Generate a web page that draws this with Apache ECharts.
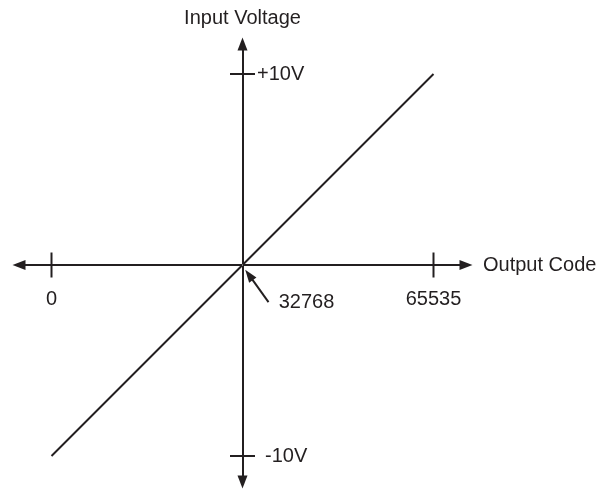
<!DOCTYPE html>
<html><head><meta charset="utf-8">
<script src="https://cdn.jsdelivr.net/npm/echarts@6/dist/echarts.min.js"></script>
<style>html,body{margin:0;padding:0;background:#fff}#c{width:605px;height:489px}</style>
</head><body><div id="c"></div>
<script>
// Data
var codes = [0, 65535];
var voltages = [-10, 10];
var xTickValues = [0, 65535];
var yTickValues = [10, -10];
var yTickLabels = ['+10V', '-10V'];
var midCode = 32768;
var xName = 'Output Code';
var yName = 'Input Voltage';

var INK = '#231f20';
var FONT = 'Liberation Sans, Arial, sans-serif';
var chart = echarts.init(document.getElementById('c'), null, {renderer: 'canvas'});

var xMin = -5576, xMax = 71111;
var lineData = codes.map(function (c, i) { return [c, voltages[i]]; });
var txt = {color: INK, fontSize: 20, fontFamily: FONT, opacity: 1};

chart.setOption({
  animation: false,
  grid: {left: 19, right: 139, top: 44, bottom: 7, containLabel: false, outerBoundsMode: 'none'},
  xAxis: [{
    type: 'value', min: xMin, max: xMax,
    name: xName, nameLocation: 'end', nameGap: 17,
    nameTextStyle: Object.assign({align: 'left', verticalAlign: 'middle'}, txt),
    axisLine: {show: true, onZero: true, symbol: ['triangle', 'triangle'], symbolSize: [10, 13],
      lineStyle: {color: INK, width: 2}},
    axisTick: {show: false}, splitLine: {show: false}, axisLabel: {show: false}
  }, {
    type: 'value', min: xMin - midCode, max: xMax - midCode,
    axisLine: {show: false, onZero: false}, axisTick: {show: false}, axisLabel: {show: false}, splitLine: {show: false}
  }],
  yAxis: {
    type: 'value', min: -11.361, max: 11.571,
    name: yName, nameLocation: 'end', nameGap: 16,
    nameTextStyle: Object.assign({align: 'center'}, txt),
    axisLine: {show: true, onZero: true, onZeroAxisIndex: 1, symbol: ['triangle', 'triangle'], symbolSize: [10, 13],
      lineStyle: {color: INK, width: 2}},
    axisTick: {show: false}, splitLine: {show: false}, axisLabel: {show: false}
  },
  series: [{
    type: 'line', data: lineData, showSymbol: false, symbol: 'none',
    lineStyle: {color: INK, width: 2}, z: 3,
    markLine: {
      silent: true, animation: false,
      label: {show: false},
      lineStyle: {color: INK, width: 2, type: 'solid', opacity: 1},
      symbolSize: [9, 13],
      data: [[{coord: [33883, -0.52], symbol: 'triangle'}, {coord: [37228, -1.94], symbol: 'none'}]]
    }
  }, {
    type: 'scatter', symbol: 'rect', symbolSize: [2, 25],
    itemStyle: {color: INK, opacity: 1}, z: 4, silent: true,
    label: Object.assign({show: true, position: 'inside', offset: [0, 34],
      formatter: function (p) { return String(p.value[0]); }}, txt),
    data: xTickValues.map(function (v) { return [v, 0]; })
  }, {
    type: 'scatter', symbol: 'rect', symbolSize: [25, 2],
    itemStyle: {color: INK, opacity: 1}, z: 4, silent: true,
    label: Object.assign({show: true, position: 'right', align: 'left', verticalAlign: 'middle',
      formatter: function (p) { return yTickLabels[p.dataIndex]; }}, txt),
    data: yTickValues.map(function (v, i) {
      return {value: [midCode, v], label: {distance: i === 0 ? 2 : 10}};
    })
  }, {
    type: 'scatter', symbolSize: 1, z: 4, silent: true,
    itemStyle: {color: '#ffffff', opacity: 1},
    label: Object.assign({show: true, position: 'inside', offset: [64, 37],
      formatter: function (p) { return String(p.value[0]); }}, txt),
    data: [[midCode, 0]]
  }]
});
</script></body></html>
